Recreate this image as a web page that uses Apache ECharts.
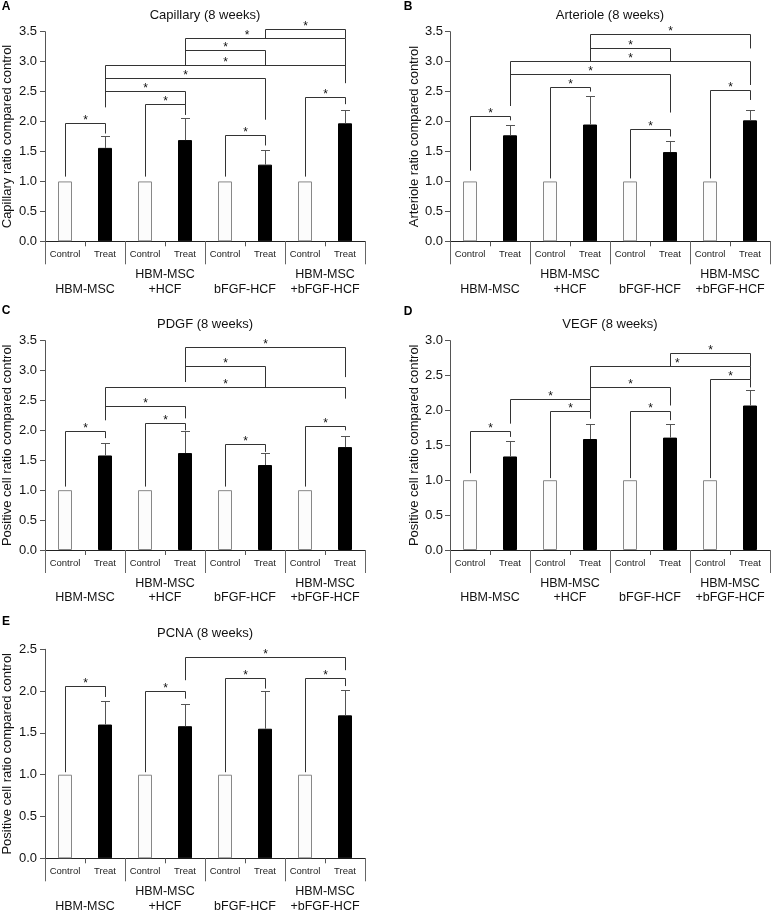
<!DOCTYPE html>
<html><head><meta charset="utf-8">
<script src="https://cdn.jsdelivr.net/npm/echarts@6/dist/echarts.min.js"></script>
<style>html,body{margin:0;padding:0;background:#fff}#c{width:773px;height:913px}</style>
</head><body><div id="c"></div>
<script>
// ---------- data ----------
const groupLabels = ['HBM-MSC', 'HBM-MSC\n+HCF', 'bFGF-HCF', 'HBM-MSC\n+bFGF-HCF'];
const conditionLabels = ['Control', 'Treat'];
const panelTitles = ['Capillary (8 weeks)', 'Arteriole (8 weeks)', 'PDGF (8 weeks)', 'VEGF (8 weeks)', 'PCNA (8 weeks)'];
const panelLetters = ['A', 'B', 'C', 'D', 'E'];
const yAxisNames = ['Capillary ratio compared control', 'Arteriole ratio compared control',
  'Positive cell ratio compared control', 'Positive cell ratio compared control', 'Positive cell ratio compared control'];
const yAxisMax = [3.5, 3.5, 3.5, 3.0, 2.5];
const yTickStep = 0.5;

const capillaryControl = [1, 1, 1, 1];
const capillaryTreat = [1.56, 1.69, 1.28, 1.97];
const capillaryError = [0.19, 0.36, 0.23, 0.22];
// [fromBar, toBar, bracketLevel, leftLegEnd, rightLegEnd]  (bars 0..7: Control/Treat per group)
const capillaryBrackets = [
  [0, 1, 1.97, 1.08, 1.80], [2, 3, 2.28, 1.08, 2.11], [4, 5, 1.76, 1.08, 1.60], [6, 7, 2.40, 1.08, 2.29],
  [1, 3, 2.50, 2.24, 2.28], [1, 5, 2.72, 2.24, 2.03], [1, 7, 2.93, 2.24, 2.64],
  [3, 5, 3.18, 2.93, 2.93], [3, 7, 3.39, 2.93, 2.93], [5, 7, 3.53, 3.39, 3.39]
];

const arterioleControl = [1, 1, 1, 1];
const arterioleTreat = [1.77, 1.95, 1.49, 2.02];
const arterioleError = [0.17, 0.46, 0.17, 0.17];
const arterioleBrackets = [
  [0, 1, 2.09, 1.18, 2.02], [2, 3, 2.56, 1.05, 2.50], [4, 5, 1.86, 1.05, 1.75], [6, 7, 2.51, 1.05, 2.36],
  [1, 5, 2.78, 2.26, 2.15], [1, 7, 3.00, 2.26, 2.61], [3, 5, 3.22, 3.00, 3.00], [3, 7, 3.45, 3.00, 3.22]
];

const pdgfControl = [1, 1, 1, 1];
const pdgfTreat = [1.58, 1.62, 1.42, 1.72];
const pdgfError = [0.20, 0.36, 0.19, 0.17];
const pdgfBrackets = [
  [0, 1, 1.98, 1.06, 1.87], [2, 3, 2.11, 1.06, 2.00], [4, 5, 1.77, 1.06, 1.64], [6, 7, 2.06, 1.06, 2.00],
  [1, 3, 2.40, 2.17, 2.20], [1, 7, 2.72, 2.17, 2.53], [3, 5, 3.06, 2.81, 2.72], [3, 7, 3.39, 2.81, 2.89]
];

const vegfControl = [1, 1, 1, 1];
const vegfTreat = [1.34, 1.59, 1.61, 2.07];
const vegfError = [0.21, 0.21, 0.19, 0.21];
const vegfBrackets = [
  [0, 1, 1.70, 1.10, 1.62], [2, 3, 1.98, 1.03, 1.88], [4, 5, 1.98, 1.03, 1.86], [6, 7, 2.44, 1.03, 2.33],
  [1, 3, 2.15, 1.81, 1.98], [3, 5, 2.33, 2.15, 2.07], [3, 7, 2.63, 2.15, 2.44], [5, 7, 2.81, 2.63, 2.63]
];

const pcnaControl = [1, 1, 1, 1];
const pcnaTreat = [1.60, 1.58, 1.55, 1.71];
const pcnaError = [0.28, 0.26, 0.45, 0.30];
const pcnaBrackets = [
  [0, 1, 2.06, 1.03, 1.93], [2, 3, 1.99, 1.03, 1.91], [4, 5, 2.15, 1.03, 2.03], [6, 7, 2.15, 1.03, 2.06],
  [3, 7, 2.40, 2.13, 2.25]
];

// ---------- layout / style ----------
const FONT = '"Liberation Sans", Arial, Helvetica, sans-serif';
const panelBoxes = [
  { left: 45, top: 31.7, width: 320, height: 209.6, nameGap: 31, labelMargin: 8 },
  { left: 450, top: 31.7, width: 320, height: 209.6, nameGap: 28, labelMargin: 7 },
  { left: 45, top: 340.6, width: 320, height: 209.4, nameGap: 31, labelMargin: 8 },
  { left: 450, top: 340.6, width: 320, height: 209.4, nameGap: 28, labelMargin: 7 },
  { left: 45, top: 649.3, width: 320, height: 209, nameGap: 31, labelMargin: 8 }
];
const letterPos = [[6, 7], [408, 7], [6, 311], [408, 312], [6, 622]];
// star horizontal nudges (in category widths) for a few crowded brackets: panel -> {bracketIndex: shift}
const starShift = { 0: { 8: -0.46 }, 3: { 6: 0.17 } };

const panels = [
  [capillaryControl, capillaryTreat, capillaryError, capillaryBrackets],
  [arterioleControl, arterioleTreat, arterioleError, arterioleBrackets],
  [pdgfControl, pdgfTreat, pdgfError, pdgfBrackets],
  [vegfControl, vegfTreat, vegfError, vegfBrackets],
  [pcnaControl, pcnaTreat, pcnaError, pcnaBrackets]
];

const barCategories = groupLabels.flatMap(() => conditionLabels);

const option = {
  backgroundColor: '#fff',
  animation: false,
  grid: [], xAxis: [], yAxis: [], series: [], graphic: []
};

function crisp(v) { return Math.round(v - 0.5) + 0.5; }

panels.forEach((p, k) => {
  const [ctrl, treat, err, brackets] = p;
  const box = panelBoxes[k];
  option.grid.push({ left: box.left, top: box.top, width: box.width, height: box.height,
    containLabel: false, outerBoundsMode: 'none' });
  option.xAxis.push({
    type: 'category', gridIndex: k, data: barCategories, position: 'bottom',
    axisLine: { show: true, lineStyle: { color: '#222', width: 1 } },
    axisTick: { show: true, interval: 0, length: 5, lineStyle: { color: '#555' } },
    axisLabel: { interval: 0, fontSize: 9.5, fontFamily: FONT, color: '#222', margin: 8, lineHeight: 10 },
    splitLine: { show: false }
  });
  option.xAxis.push({
    type: 'category', gridIndex: k, data: groupLabels, position: 'bottom',
    axisLine: { show: false },
    axisTick: { show: true, interval: 0, length: 23, lineStyle: { color: '#666' } },
    axisLabel: { interval: 0, fontSize: 12.5, fontFamily: FONT, color: '#111', margin: 55,
      verticalAlign: 'bottom', lineHeight: 14.5 },
    splitLine: { show: false }
  });
  option.yAxis.push({
    type: 'value', gridIndex: k, min: 0, max: yAxisMax[k], interval: yTickStep,
    name: yAxisNames[k], nameLocation: 'middle', nameGap: box.nameGap, nameRotate: 90,
    nameTextStyle: { fontSize: 13, fontFamily: FONT, color: '#111' },
    axisLine: { show: true, lineStyle: { color: '#555' } },
    axisTick: { show: true, length: 5, lineStyle: { color: '#555' } },
    axisLabel: { fontSize: 13, fontFamily: FONT, color: '#111', margin: box.labelMargin,
      formatter: v => v.toFixed(1) },
    splitLine: { show: false }
  });
  const xi = 2 * k;
  const barData = [];
  ctrl.forEach((c, i) => {
    barData.push({ value: c, itemStyle: { color: '#fcfcfc', borderColor: '#888', borderWidth: 1 } });
    barData.push({ value: treat[i], itemStyle: { color: '#000', borderColor: '#000', borderWidth: 1 } });
  });
  option.series.push({
    type: 'bar', xAxisIndex: xi, yAxisIndex: k, data: barData, barWidth: 14, z: 2
  });
  option.series.push({
    type: 'custom', xAxisIndex: xi, yAxisIndex: k, z: 3,
    data: treat.map((v, i) => [2 * i + 1, v, err[i]]),
    encode: { x: 0, y: 1 },
    renderItem: (params, api) => {
      const x = api.value(0), v = api.value(1), e = api.value(2);
      const b = api.coord([x, v]), t = api.coord([x, v + e]);
      const cx = crisp(b[0]), ty = crisp(t[1]);
      return { type: 'group', children: [
        { type: 'line', shape: { x1: cx, y1: b[1], x2: cx, y2: ty }, style: { stroke: '#555', lineWidth: 1 } },
        { type: 'line', shape: { x1: cx - 4.5, y1: ty, x2: cx + 4.5, y2: ty }, style: { stroke: '#555', lineWidth: 1 } }
      ] };
    }
  });
  const shifts = starShift[k] || {};
  option.series.push({
    type: 'custom', xAxisIndex: xi, yAxisIndex: k, z: 4, clip: false,
    data: brackets.map((b, j) => [b[0], b[1], b[2], b[3], b[4], j]),
    encode: { x: 0, y: 2 },
    renderItem: (params, api) => {
      const a = api.value(0), b = api.value(1), top = api.value(2), yl = api.value(3), yr = api.value(4);
      const j = api.value(5);
      const p1 = api.coord([a, yl]), p2 = api.coord([a, top]), p3 = api.coord([b, top]), p4 = api.coord([b, yr]);
      const band = api.size([1, 0])[0];
      const xa = crisp(p1[0]), xb = crisp(p3[0]), yt = crisp(p2[1]);
      const mx = (xa + xb) / 2 + (shifts[j] || 0) * band;
      return { type: 'group', children: [
        { type: 'polyline', shape: { points: [[xa, p1[1]], [xa, yt], [xb, yt], [xb, p4[1]]] },
          style: { stroke: '#333', lineWidth: 1, fill: 'none' } },
        { type: 'text', x: mx, y: yt - 3,
          style: { text: '*', font: '12px ' + FONT, fill: '#111', align: 'center', verticalAlign: 'middle',
            textAlign: 'center', textVerticalAlign: 'middle' } }
      ] };
    }
  });
  option.graphic.push({
    type: 'text', x: box.left + box.width / 2, y: box.top - 16,
    style: { text: panelTitles[k], font: '13px ' + FONT, fill: '#111', align: 'center', verticalAlign: 'middle',
      textAlign: 'center', textVerticalAlign: 'middle' }
  });
  option.graphic.push({
    type: 'text', x: letterPos[k][0], y: letterPos[k][1],
    style: { text: panelLetters[k], font: 'bold 12px ' + FONT, fill: '#000', align: 'center', verticalAlign: 'middle',
      textAlign: 'center', textVerticalAlign: 'middle' }
  });
});

const chart = echarts.init(document.getElementById('c'), null, { renderer: 'canvas' });
chart.setOption(option);
</script>
</body></html>
